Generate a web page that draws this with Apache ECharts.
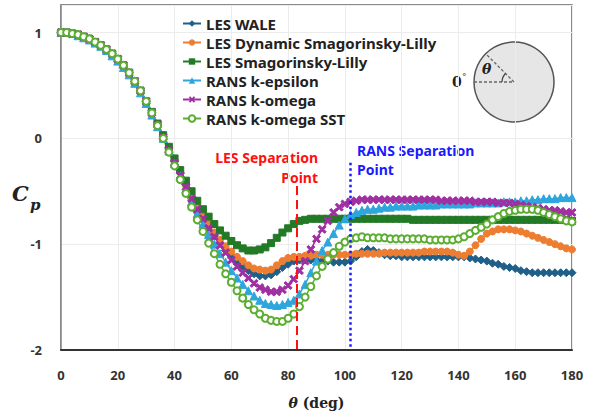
<!DOCTYPE html>
<html>
<head>
<meta charset="utf-8">
<script src="https://cdn.jsdelivr.net/npm/echarts@6/dist/echarts.min.js"></script>
<style>
html, body { margin: 0; padding: 0; background: #fff; }
#chart { width: 597px; height: 416px; }
</style>
</head>
<body>
<div id="chart"></div>
<script>
// angle grid, every 2 deg from 0 to 180
const theta = Array.from({ length: 91 }, (v, i) => i * 2)

const xTicks = [0, 20, 40, 60, 80, 100, 120, 140, 160, 180]
const yTicks = [-2, -1, 0, 1]

const lesWale = [
  1.00, 1.00, 0.99, 0.98, 0.96, 0.94, 0.91, 0.88, 0.84, 0.80,
  0.75, 0.69, 0.62, 0.54, 0.45, 0.35, 0.24, 0.13, 0.02, -0.10,
  -0.22, -0.33, -0.44, -0.55, -0.65, -0.75, -0.84, -0.92, -0.99, -1.06,
  -1.11, -1.16, -1.21, -1.25, -1.28, -1.30, -1.30, -1.29, -1.26, -1.22,
  -1.19, -1.16, -1.15, -1.15, -1.15, -1.15, -1.16, -1.16, -1.17, -1.17,
  -1.17, -1.16, -1.12, -1.07, -1.05, -1.06, -1.08, -1.10, -1.11, -1.11,
  -1.12, -1.12, -1.12, -1.12, -1.12, -1.12, -1.12, -1.12, -1.12, -1.12,
  -1.12, -1.12, -1.13, -1.14, -1.15, -1.16, -1.18, -1.19, -1.21, -1.22,
  -1.23, -1.25, -1.26, -1.27, -1.27, -1.27, -1.27, -1.27, -1.27, -1.27,
  -1.27
]

const lesDynamic = [
  1.00, 1.00, 0.99, 0.98, 0.96, 0.94, 0.91, 0.88, 0.84, 0.80,
  0.75, 0.69, 0.62, 0.54, 0.45, 0.35, 0.24, 0.13, 0.02, -0.09,
  -0.21, -0.32, -0.43, -0.54, -0.64, -0.73, -0.81, -0.89, -0.96, -1.02,
  -1.07, -1.12, -1.16, -1.20, -1.23, -1.24, -1.25, -1.24, -1.20, -1.16,
  -1.13, -1.12, -1.12, -1.11, -1.11, -1.10, -1.10, -1.10, -1.10, -1.10,
  -1.10, -1.10, -1.09, -1.09, -1.09, -1.09, -1.09, -1.08, -1.08, -1.08,
  -1.08, -1.08, -1.08, -1.08, -1.07, -1.07, -1.07, -1.07, -1.07, -1.08,
  -1.10, -1.11, -1.07, -1.01, -0.95, -0.90, -0.88, -0.86, -0.86, -0.86,
  -0.87, -0.88, -0.90, -0.92, -0.94, -0.96, -0.98, -1.00, -1.02, -1.04,
  -1.05
]

const lesSmag = [
  1.00, 1.00, 0.99, 0.98, 0.96, 0.94, 0.91, 0.88, 0.84, 0.80,
  0.75, 0.69, 0.62, 0.54, 0.45, 0.35, 0.25, 0.14, 0.03, -0.08,
  -0.19, -0.30, -0.40, -0.50, -0.59, -0.67, -0.74, -0.81, -0.87, -0.92,
  -0.97, -1.01, -1.04, -1.06, -1.06, -1.05, -1.03, -0.99, -0.94, -0.89,
  -0.85, -0.81, -0.78, -0.77, -0.76, -0.76, -0.76, -0.76, -0.76, -0.76,
  -0.76, -0.76, -0.76, -0.76, -0.76, -0.76, -0.76, -0.76, -0.76, -0.76,
  -0.76, -0.76, -0.77, -0.77, -0.77, -0.77, -0.77, -0.77, -0.77, -0.77,
  -0.77, -0.77, -0.77, -0.77, -0.77, -0.77, -0.77, -0.77, -0.77, -0.77,
  -0.77, -0.77, -0.77, -0.77, -0.77, -0.77, -0.77, -0.77, -0.77, -0.77,
  -0.78
]

const kEpsilon = [
  1.00, 1.00, 0.99, 0.97, 0.95, 0.93, 0.90, 0.87, 0.83, 0.78,
  0.73, 0.67, 0.60, 0.52, 0.43, 0.33, 0.22, 0.11, 0.00, -0.12,
  -0.24, -0.36, -0.48, -0.60, -0.71, -0.81, -0.91, -1.00, -1.09, -1.17,
  -1.25, -1.32, -1.38, -1.44, -1.49, -1.53, -1.56, -1.57, -1.58, -1.57,
  -1.55, -1.53, -1.47, -1.38, -1.27, -1.16, -1.06, -0.98, -0.90, -0.82,
  -0.76, -0.72, -0.70, -0.68, -0.67, -0.67, -0.66, -0.65, -0.65, -0.64,
  -0.64, -0.64, -0.64, -0.63, -0.63, -0.63, -0.63, -0.62, -0.62, -0.62,
  -0.62, -0.62, -0.62, -0.61, -0.61, -0.61, -0.61, -0.61, -0.60, -0.60,
  -0.60, -0.59, -0.59, -0.58, -0.58, -0.57, -0.57, -0.57, -0.56, -0.56,
  -0.56
]

const kOmega = [
  1.00, 1.00, 0.99, 0.98, 0.96, 0.94, 0.91, 0.88, 0.84, 0.80,
  0.75, 0.69, 0.62, 0.54, 0.45, 0.35, 0.24, 0.13, 0.01, -0.11,
  -0.23, -0.35, -0.46, -0.57, -0.67, -0.76, -0.85, -0.93, -1.01, -1.08,
  -1.15, -1.21, -1.27, -1.32, -1.37, -1.41, -1.43, -1.45, -1.45, -1.43,
  -1.39, -1.33, -1.25, -1.16, -1.05, -0.95, -0.86, -0.78, -0.70, -0.65,
  -0.62, -0.60, -0.59, -0.58, -0.58, -0.58, -0.58, -0.58, -0.58, -0.58,
  -0.58, -0.58, -0.58, -0.58, -0.58, -0.58, -0.58, -0.59, -0.59, -0.59,
  -0.59, -0.59, -0.59, -0.60, -0.60, -0.60, -0.60, -0.61, -0.61, -0.61,
  -0.62, -0.63, -0.64, -0.65, -0.66, -0.67, -0.68, -0.68, -0.69, -0.70,
  -0.70
]

const kOmegaSst = [
  1.00, 1.00, 0.99, 0.98, 0.96, 0.94, 0.91, 0.88, 0.84, 0.80,
  0.75, 0.69, 0.62, 0.54, 0.45, 0.35, 0.24, 0.12, 0.00, -0.13,
  -0.26, -0.39, -0.52, -0.65, -0.77, -0.88, -0.99, -1.09, -1.19, -1.28,
  -1.36, -1.44, -1.51, -1.57, -1.62, -1.66, -1.70, -1.72, -1.73, -1.73,
  -1.70, -1.66, -1.59, -1.50, -1.40, -1.30, -1.21, -1.14, -1.08, -1.02,
  -0.98, -0.95, -0.94, -0.93, -0.94, -0.94, -0.94, -0.94, -0.95, -0.95,
  -0.95, -0.95, -0.95, -0.95, -0.95, -0.96, -0.96, -0.96, -0.96, -0.96,
  -0.95, -0.93, -0.90, -0.87, -0.84, -0.81, -0.77, -0.74, -0.71, -0.69,
  -0.68, -0.67, -0.67, -0.67, -0.68, -0.70, -0.72, -0.74, -0.76, -0.78,
  -0.79
]

// separation points (deg)
const lesSeparation = 83
const ransSeparation = 102

const crossSymbol = 'path://M0,2L2,0L5,3L8,0L10,2L7,5L10,8L8,10L5,7L2,10L0,8L3,5Z'

function pairs (values) {
  return theta.map((t, i) => [t, values[i]])
}

function makeSeries (name, values, color, symbol, size, extra) {
  let s = {
    name: name,
    type: 'line',
    data: pairs(values),
    symbol: symbol,
    symbolSize: size,
    showAllSymbol: true,
    lineStyle: { color: color, width: 1.5 },
    itemStyle: { color: color, borderColor: color },
    animation: false
  }
  return Object.assign(s, extra || {})
}

const sansFont = '"Noto Sans", "DejaVu Sans", sans-serif'
const serifFont = '"DejaVu Serif", "Liberation Serif", serif'

let chart = echarts.init(document.getElementById('chart'), null, { renderer: 'svg' })

let option = {
  backgroundColor: '#fff',
  animation: false,
  grid: {
    left: 61,
    right: 25,
    top: 5,
    bottom: 66,
    show: true,
    borderColor: '#666',
    borderWidth: 1.5
  },
  legend: {
    orient: 'vertical',
    left: 182,
    top: 16,
    padding: 0,
    itemGap: 4,
    itemWidth: 18,
    itemHeight: 8,
    textStyle: { fontFamily: sansFont, fontWeight: 'bold', fontSize: 15, lineHeight: 15, color: '#222' },
    data: ['LES WALE', 'LES Dynamic Smagorinsky-Lilly', 'LES Smagorinsky-Lilly', 'RANS k-epsilon', 'RANS k-omega', 'RANS k-omega SST']
  },
  xAxis: {
    type: 'value',
    min: xTicks[0],
    max: xTicks[xTicks.length - 1],
    interval: 20,
    name: '{i|θ} (deg)',
    nameLocation: 'middle',
    nameGap: 46,
    nameTextStyle: {
      fontFamily: serifFont,
      fontWeight: 'bold',
      fontSize: 14,
      color: '#222',
      rich: {
        i: { fontFamily: serifFont, fontWeight: 'bold', fontStyle: 'italic', fontSize: 14, color: '#222' }
      }
    },
    axisLine: { onZero: false, lineStyle: { color: '#333', width: 2 } },
    axisTick: { show: false },
    axisLabel: { margin: 18, fontFamily: sansFont, fontWeight: 'bold', fontSize: 13, color: '#333' },
    splitLine: { show: true, lineStyle: { color: '#ececec', width: 1 } }
  },
  yAxis: {
    type: 'value',
    min: yTicks[0],
    max: 1.26,
    interval: 1,
    axisLine: { show: true, onZero: false, lineStyle: { color: '#888', width: 1.5 } },
    axisTick: { show: false },
    axisLabel: {
      margin: 19,
      fontFamily: sansFont,
      fontWeight: 'bold',
      fontSize: 13,
      color: '#333',
      formatter: function (v) {
        return yTicks.indexOf(v) >= 0 ? String(v) : ''
      }
    },
    splitLine: { show: true, lineStyle: { color: '#ececec', width: 1 } }
  },
  series: [
    makeSeries('LES WALE', lesWale, '#1f5f88', 'diamond', 8, {
      markLine: {
        silent: true,
        symbol: 'none',
        label: { show: false },
        animation: false,
        data: [
          [{ coord: [lesSeparation, -0.45], lineStyle: { color: '#ff1010', type: [9, 5], width: 2 } },
            { coord: [lesSeparation, yTicks[0]] }],
          [{ coord: [ransSeparation, -0.23], lineStyle: { color: '#1a1aff', type: [2.5, 3], width: 2.5 } },
            { coord: [ransSeparation, yTicks[0]] }]
        ]
      }
    }),
    makeSeries('LES Dynamic Smagorinsky-Lilly', lesDynamic, '#ed7d31', 'circle', 7),
    makeSeries('LES Smagorinsky-Lilly', lesSmag, '#237a26', 'rect', 7),
    makeSeries('RANS k-epsilon', kEpsilon, '#2ea6dd', 'triangle', 8),
    makeSeries('RANS k-omega', kOmega, '#a02fa2', crossSymbol, 8),
    makeSeries('RANS k-omega SST', kOmegaSst, '#5cad32', 'emptyCircle', 7, {
      itemStyle: { color: '#5cad32', borderColor: '#5cad32', borderWidth: 2 }
    })
  ],
  graphic: [
    // y axis name C_p
    { type: 'text', left: 12, top: 183, style: { text: 'C', font: 'italic bold 21px ' + serifFont, fill: '#222' } },
    { type: 'text', left: 30, top: 197, style: { text: 'p', font: 'italic bold 15px ' + serifFont, fill: '#222' } },
    // separation labels
    { type: 'text', right: 279, top: 150, style: { text: 'LES Separation', font: 'bold 14px ' + sansFont, fill: '#ff1010' } },
    { type: 'text', right: 279, top: 170, style: { text: 'Point', font: 'bold 14px ' + sansFont, fill: '#ff1010' } },
    { type: 'text', left: 357, top: 143, style: { text: 'RANS Separation', font: 'bold 14px ' + sansFont, fill: '#1a1aff' } },
    { type: 'text', left: 357, top: 162, style: { text: 'Point', font: 'bold 14px ' + sansFont, fill: '#1a1aff' } },
    // cylinder inset
    {
      type: 'group',
      children: [
        { type: 'circle', shape: { cx: 514, cy: 82, r: 40 }, style: { fill: '#e6e6e6', stroke: '#555', lineWidth: 1.5 } },
        { type: 'line', shape: { x1: 474, y1: 82, x2: 514, y2: 82 }, style: { stroke: '#666', lineWidth: 1.3, lineDash: [3, 2] } },
        { type: 'line', shape: { x1: 514, y1: 82, x2: 486, y2: 54 }, style: { stroke: '#666', lineWidth: 1.3, lineDash: [3, 2] } },
        { type: 'arc', shape: { cx: 514, cy: 82, r: 12, startAngle: Math.PI, endAngle: Math.PI * 1.25, clockwise: true }, style: { stroke: '#444', lineWidth: 1.3, fill: 'none' } },
        { type: 'text', left: 482, top: 62, style: { text: 'θ', font: 'italic bold 14px ' + serifFont, fill: '#222' } },
        { type: 'text', left: 452, top: 75, style: { text: '0', font: 'bold 14px ' + serifFont, fill: '#222' } },
        { type: 'text', left: 462, top: 72, style: { text: '°', font: '9px ' + serifFont, fill: '#444' } }
      ]
    }
  ]
}

chart.setOption(option)
</script>
</body>
</html>
